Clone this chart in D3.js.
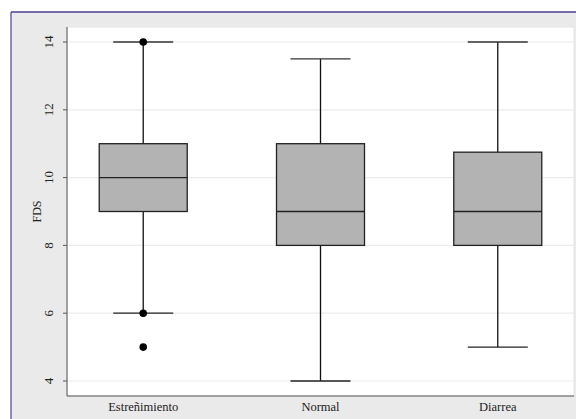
<!DOCTYPE html>
<html lang="es">
  <head>
    <meta charset="UTF-8" />
    <script src="https://d3js.org/d3.v7.min.js"></script>
    <style>
      body { margin: 0; background: #fff; }
    </style>
  </head>
  <body>
    <svg width="576" height="419"></svg>
    <script>
      // data
      const groups = ["Estreñimiento", "Normal", "Diarrea"];
      const lowWhisker = [6, 4, 5];
      const q1 = [9, 8, 8];
      const median = [10, 9, 9];
      const q3 = [11, 11, 10.75];
      const highWhisker = [14, 13.5, 14];
      const outliers = [[14, 6, 5], [], []];
      const yTicks = [4, 6, 8, 10, 12, 14];

      const svg = d3.select("svg");
      const W = 576, H = 419;
      const m = { left: 67, right: 2, top: 27, bottom: 23 };
      const serif = "'Liberation Serif', 'DejaVu Serif', serif";

      // outer frame
      svg.append("rect").attr("x", 11).attr("y", 12).attr("width", W - 11).attr("height", H - 12)
        .attr("fill", "#eaeaea");
      svg.append("line").attr("x1", 11).attr("x2", 11).attr("y1", 12).attr("y2", H)
        .attr("stroke", "#6f68a8").attr("stroke-width", 1.5);
      svg.append("line").attr("x1", 11).attr("x2", W).attr("y1", 12).attr("y2", 12)
        .attr("stroke", "#4a3f96").attr("stroke-width", 1.5);

      // plot area
      svg.append("rect").attr("x", m.left).attr("y", m.top)
        .attr("width", W - m.right - m.left).attr("height", H - m.bottom - m.top)
        .attr("fill", "#fff").attr("stroke", "#e4e4e4");

      const x = d3.scalePoint().domain(groups).range([m.left, W - m.right]).padding(0.43);
      const y = d3.scaleLinear().domain([4, 14]).range([381, 42]);

      // grid
      svg.append("g").selectAll("line").data(yTicks).join("line")
        .attr("x1", m.left).attr("x2", W - m.right)
        .attr("y1", d => y(d)).attr("y2", d => y(d))
        .attr("stroke", "#ececec").attr("stroke-width", 1.2);

      // axes
      const yAxis = svg.append("g").attr("transform", `translate(${m.left},0)`)
        .call(d3.axisLeft(y).tickValues(yTicks).tickSize(4).tickPadding(6));
      yAxis.attr("font-family", null);
      yAxis.select(".domain").attr("d", `M0,${m.top}V${H - m.bottom}`).attr("stroke", "#555");
      yAxis.selectAll(".tick").attr("transform", null);
      yAxis.selectAll(".tick line").attr("stroke", "#555")
        .attr("y1", d => y(d)).attr("y2", d => y(d));
      yAxis.selectAll(".tick text")
        .style("font-family", serif).style("font-size", "13px").attr("fill", "#222")
        .attr("text-anchor", "middle")
        .attr("transform", "rotate(-90)")
        .attr("x", d => -y(d)).attr("y", -19).attr("dy", "0.35em");

      svg.append("line").attr("x1", m.left).attr("x2", W - m.right)
        .attr("y1", H - m.bottom).attr("y2", H - m.bottom).attr("stroke", "#555");

      svg.append("text").attr("transform", `translate(37,${(m.top + H - m.bottom) / 2}) rotate(-90)`)
        .style("font-family", serif).style("font-size", "12px").attr("fill", "#222")
        .attr("text-anchor", "middle").attr("dy", "0.35em").text("FDS");

      svg.append("g").selectAll("text").data(groups).join("text")
        .attr("x", d => x(d)).attr("y", 411)
        .style("font-family", serif).style("font-size", "12.5px").attr("fill", "#222")
        .attr("text-anchor", "middle").text(d => d);

      // boxes
      const boxW = 88, capW = 60;
      const g = svg.append("g").selectAll("g").data(groups).join("g")
        .attr("transform", d => `translate(${x(d)},0)`);
      g.append("line").attr("y1", (d, i) => y(highWhisker[i])).attr("y2", (d, i) => y(lowWhisker[i]))
        .attr("stroke", "#111").attr("stroke-width", 1.3);
      g.append("line").attr("x1", -capW / 2).attr("x2", capW / 2)
        .attr("y1", (d, i) => y(highWhisker[i])).attr("y2", (d, i) => y(highWhisker[i]))
        .attr("stroke", "#333").attr("stroke-width", 1.3);
      g.append("line").attr("x1", -capW / 2).attr("x2", capW / 2)
        .attr("y1", (d, i) => y(lowWhisker[i])).attr("y2", (d, i) => y(lowWhisker[i]))
        .attr("stroke", "#222").attr("stroke-width", 1.3);
      g.append("rect").attr("x", -boxW / 2).attr("width", boxW)
        .attr("y", (d, i) => y(q3[i])).attr("height", (d, i) => y(q1[i]) - y(q3[i]))
        .attr("fill", "#b3b3b3").attr("stroke", "#222").attr("stroke-width", 1.3);
      g.append("line").attr("x1", -boxW / 2).attr("x2", boxW / 2)
        .attr("y1", (d, i) => y(median[i])).attr("y2", (d, i) => y(median[i]))
        .attr("stroke", "#222").attr("stroke-width", 1.3);
      g.selectAll("circle").data((d, i) => outliers[i]).join("circle")
        .attr("cy", v => y(v)).attr("r", 3.8).attr("fill", "#000");
    </script>
  </body>
</html>
